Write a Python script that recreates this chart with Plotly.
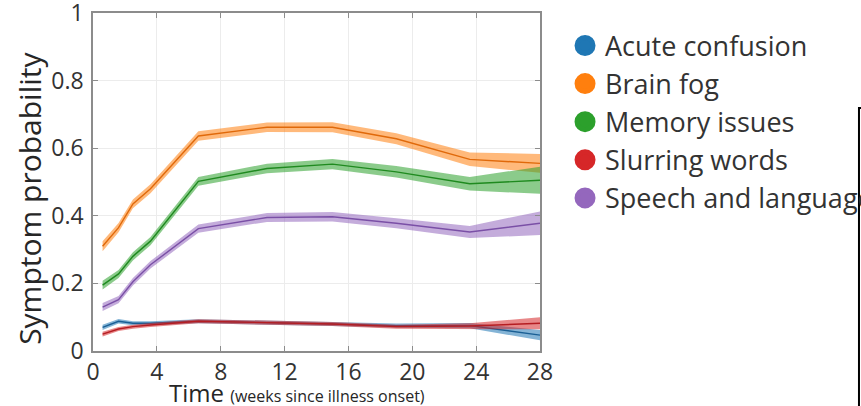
import plotly.graph_objects as go

# Weeks since illness onset at which probabilities were estimated
weeks = [0.6, 1.6, 2.5, 3.6, 6.6, 10.9, 15.0, 19.0, 23.6, 28.0]

# Mean symptom probability per symptom
acute_confusion = [0.070, 0.088, 0.082, 0.082, 0.088, 0.085, 0.080, 0.075, 0.075, 0.047]
brain_fog = [0.310, 0.365, 0.435, 0.480, 0.636, 0.662, 0.662, 0.628, 0.567, 0.555]
memory_issues = [0.195, 0.228, 0.280, 0.325, 0.502, 0.540, 0.553, 0.530, 0.495, 0.505]
slurring_words = [0.050, 0.065, 0.072, 0.077, 0.088, 0.085, 0.080, 0.072, 0.074, 0.082]
speech_language = [0.130, 0.152, 0.205, 0.255, 0.362, 0.395, 0.397, 0.378, 0.352, 0.378]

# Half-widths of the confidence bands
acute_confusion_err = [0.008, 0.007, 0.006, 0.006, 0.006, 0.006, 0.006, 0.006, 0.008, 0.015]
brain_fog_err = [0.015, 0.014, 0.013, 0.013, 0.014, 0.014, 0.015, 0.016, 0.020, 0.028]
memory_issues_err = [0.013, 0.012, 0.012, 0.012, 0.013, 0.014, 0.015, 0.017, 0.020, 0.040]
slurring_words_err = [0.007, 0.006, 0.006, 0.006, 0.006, 0.006, 0.006, 0.006, 0.008, 0.018]
speech_language_err = [0.012, 0.011, 0.011, 0.011, 0.012, 0.013, 0.014, 0.015, 0.018, 0.035]

labels = ["Acute confusion", "Brain fog", "Memory issues", "Slurring words", "Speech and language"]
x_ticks = [0, 4, 8, 12, 16, 20, 24, 28]
y_ticks = [0, 0.2, 0.4, 0.6, 0.8, 1]

series = [
    (acute_confusion, acute_confusion_err, (31, 119, 180), "#1a5f94"),
    (brain_fog, brain_fog_err, (255, 127, 14), "#e0690a"),
    (memory_issues, memory_issues_err, (44, 160, 44), "#1f8a1f"),
    (slurring_words, slurring_words_err, (214, 39, 40), "#b51d22"),
    (speech_language, speech_language_err, (148, 103, 189), "#7a4fa6"),
]

fig = go.Figure()

for name, (mean, err, rgb, dark) in zip(labels, series):
    upper = [m + e for m, e in zip(mean, err)]
    lower = [m - e for m, e in zip(mean, err)]
    band = "rgba(%d,%d,%d,0.55)" % rgb
    fig.add_trace(go.Scatter(x=weeks, y=upper, mode="lines", line=dict(width=0),
                             showlegend=False, hoverinfo="skip"))
    fig.add_trace(go.Scatter(x=weeks, y=lower, mode="lines", line=dict(width=0),
                             fill="tonexty", fillcolor=band,
                             showlegend=False, hoverinfo="skip"))
    fig.add_trace(go.Scatter(x=weeks, y=mean, mode="lines",
                             line=dict(color=dark, width=1.4),
                             showlegend=False, name=name))

# Legend entries drawn as filled circles
for name, (mean, err, rgb, dark) in zip(labels, series):
    c = "rgb(%d,%d,%d)" % rgb
    fig.add_trace(go.Scatter(x=[None], y=[None], mode="markers", name=name,
                             marker=dict(color=c, size=22, line=dict(color=c, width=5))))

axis_common = dict(
    showgrid=True, gridcolor="#ececec", gridwidth=1,
    showline=True, linecolor="#8c8c8c", linewidth=1.5, mirror="ticks",
    ticks="inside", ticklen=5, tickcolor="#8c8c8c",
    tickfont=dict(size=23, color="#333333"), zeroline=False,
    ticklabeloverflow="allow",
)

fig.update_xaxes(range=[0, 28], tickvals=x_ticks, **axis_common)
fig.update_yaxes(range=[0, 1], tickvals=y_ticks, ticklabelstandoff=3, **axis_common)

fig.add_annotation(
    text="Symptom probability", textangle=-90,
    xref="paper", yref="paper", x=-0.141, y=0.453, xanchor="center", yanchor="middle",
    showarrow=False, font=dict(size=30, color="#262626"))

fig.add_annotation(
    text="Time <span style='font-size:16px'>(weeks since illness onset)</span>",
    xref="paper", yref="paper", x=0.456, y=-0.124, xanchor="center", yanchor="middle",
    showarrow=False, font=dict(size=24, color="#262626"))

# Frame edge on the right side of the figure
fig.add_shape(type="rect", xref="paper", yref="paper",
              x0=1.7136, x1=1.76, y0=-0.2, y1=0.719,
              line=dict(color="black", width=2), fillcolor="white", layer="above")

fig.update_layout(
    width=861, height=406,
    margin=dict(l=93, r=321, t=13, b=55, autoexpand=False),
    paper_bgcolor="white", plot_bgcolor="white",
    font=dict(family="Open Sans", color="#333333"),
    legend=dict(x=1.056, y=0.975, xanchor="left", yanchor="top", traceorder="normal",
                font=dict(size=27, color="#333333"), bgcolor="rgba(0,0,0,0)",
                itemsizing="trace"),
)

fig.write_html("out.html")
